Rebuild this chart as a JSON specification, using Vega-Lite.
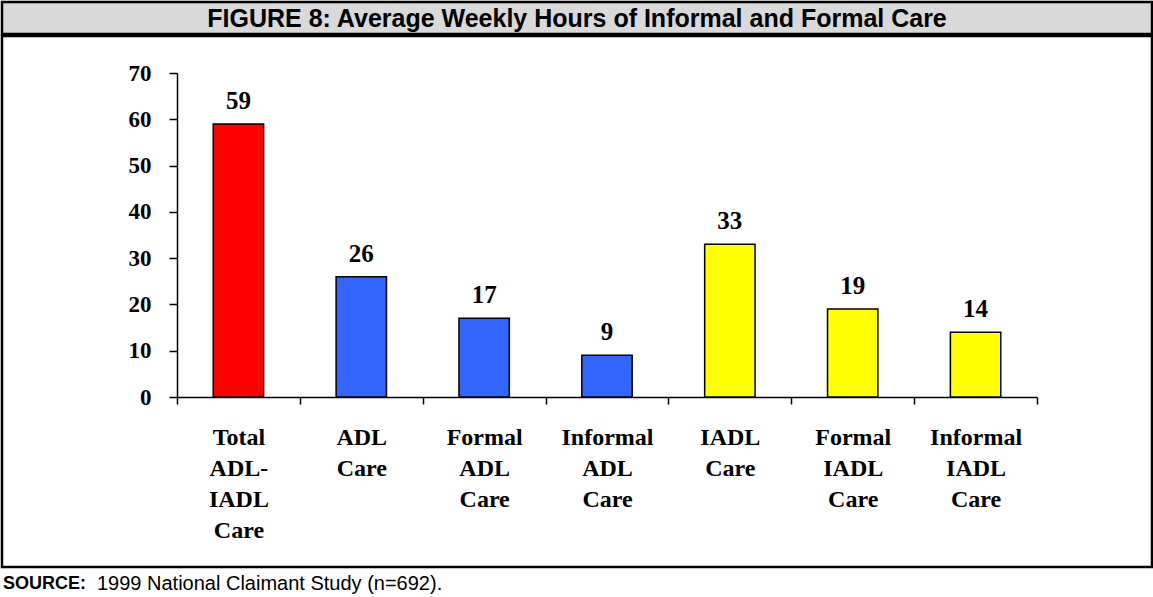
{
  "$schema": "https://vega.github.io/schema/vega-lite/v6.json",
  "padding": 0,
  "autosize": {"type": "pad"},
  "background": "white",
  "spacing": -2.5,
  "config": {"concat": {"spacing": -2.5}, "view": {"stroke": null}},
  "datasets": {
    "bars": [
      {"category": "Total ADL-IADL Care", "hours": 59, "group": "Total"},
      {"category": "ADL Care", "hours": 26, "group": "ADL"},
      {"category": "Formal ADL Care", "hours": 17, "group": "ADL"},
      {"category": "Informal ADL Care", "hours": 9, "group": "ADL"},
      {"category": "IADL Care", "hours": 33, "group": "IADL"},
      {"category": "Formal IADL Care", "hours": 19, "group": "IADL"},
      {"category": "Informal IADL Care", "hours": 14, "group": "IADL"}
    ]
  },
  "vconcat": [
    {
      "width": 1150,
      "height": 32,
      "view": {"fill": "#d9d9d9", "stroke": "black", "strokeWidth": 2.5},
      "data": {"values": [{"title": "FIGURE 8: Average Weekly Hours of Informal and Formal Care"}]},
      "mark": {"type": "text", "font": "Liberation Sans", "fontWeight": "bold", "fontSize": 25, "color": "black", "baseline": "middle", "dy": 1},
      "encoding": {"text": {"field": "title"}}
    },
    {
      "width": 1150,
      "height": 531,
      "view": {"stroke": "black", "strokeWidth": 2.5},
      "data": {"name": "bars"},
      "encoding": {
        "x": {
          "field": "category",
          "type": "nominal",
          "sort": null,
          "scale": {"range": [175, 1035], "paddingInner": 0, "paddingOuter": 0, "round": false},
          "axis": {
            "orient": "bottom",
            "offset": -170,
            "domain": true,
            "domainColor": "black",
            "domainWidth": 1.5,
            "grid": false,
            "tickBand": "extent",
            "tickSize": 7,
            "tickColor": "black",
            "tickWidth": 1.5,
            "labelAngle": 0,
            "labelExpr": "split(replace(datum.label, '-', '- '), ' ')",
            "labelFont": "Liberation Serif",
            "labelFontWeight": "bold",
            "labelFontSize": 24,
            "labelLineHeight": 31,
            "labelColor": "black",
            "labelPadding": 21,
            "labelBaseline": "top",
            "labelLimit": 0,
            "title": null
          }
        }
      },
      "layer": [
        {
          "mark": {"type": "bar", "stroke": "black", "strokeWidth": 1.5, "width": {"band": 0.41}},
          "encoding": {
            "y": {
              "field": "hours",
              "type": "quantitative",
              "scale": {"domain": [0, 70], "range": [361, 37], "nice": false, "zero": true},
              "axis": {
                "orient": "left",
                "offset": -175,
                "values": [0, 10, 20, 30, 40, 50, 60, 70],
                "domain": true,
                "domainColor": "black",
                "domainWidth": 1.5,
                "grid": false,
                "tickSize": 8,
                "tickColor": "black",
                "tickWidth": 1.5,
                "labelFont": "Liberation Serif",
                "labelFontWeight": "bold",
                "labelFontSize": 23,
                "labelColor": "black",
                "labelPadding": 18,
                "title": null
              }
            },
            "color": {
              "field": "group",
              "type": "nominal",
              "scale": {"domain": ["Total", "ADL", "IADL"], "range": ["#ff0000", "#3366ff", "#ffff00"]},
              "legend": null
            }
          }
        },
        {
          "mark": {"type": "text", "font": "Liberation Serif", "fontWeight": "bold", "fontSize": 25, "color": "black", "baseline": "alphabetic", "dy": -15},
          "encoding": {
            "y": {"field": "hours", "type": "quantitative"},
            "text": {"field": "hours", "type": "quantitative"}
          }
        }
      ]
    },
    {
      "width": 1150,
      "height": 30,
      "data": {"values": [{"part": "SOURCE:", "rest": "1999 National Claimant Study (n=692)."}]},
      "layer": [
        {
          "mark": {"type": "text", "font": "Liberation Sans", "fontWeight": "bold", "fontSize": 18, "color": "black", "align": "left", "baseline": "middle", "dx": -574},
          "encoding": {"text": {"field": "part"}}
        },
        {
          "mark": {"type": "text", "font": "Liberation Sans", "fontWeight": "normal", "fontSize": 20, "color": "black", "align": "left", "baseline": "middle", "dx": -480},
          "encoding": {"text": {"field": "rest"}}
        }
      ]
    }
  ]
}
